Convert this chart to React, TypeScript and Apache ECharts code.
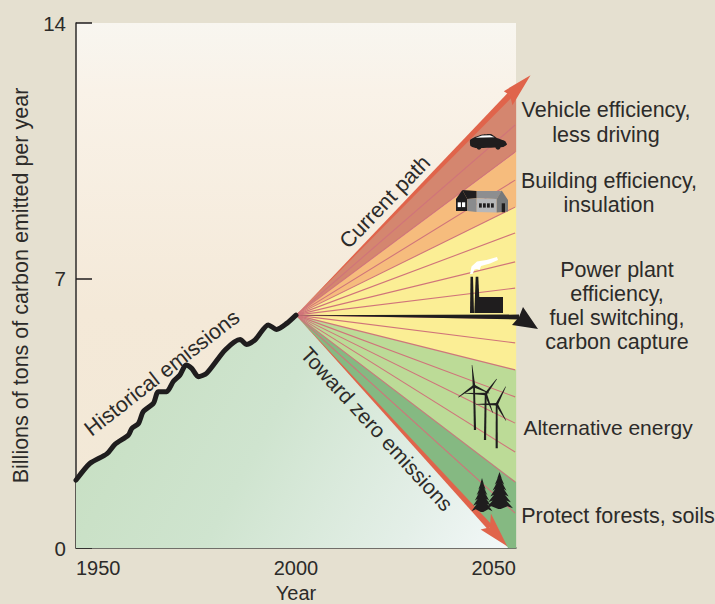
import React, { useEffect, useRef } from "react";
import * as echarts from "echarts";

const FONT = '"Liberation Sans", Arial, sans-serif';
const INK = "#2c2b29";
const PAGE = "#e5e0d0";

// Data
const xTickYears = [1950, 2000, 2050];
const yTickValues = [0, 7.18, 14]; // the "7" tick sits slightly above mid-height in the reference
const historical: [number, number][] = [
  [1950, 1.81], [1953.2, 2.26], [1957, 2.51], [1958.9, 2.77], [1961.9, 3.01], [1962.7, 3.19],
  [1964.2, 3.32], [1965.3, 3.64], [1967.6, 3.86], [1968.7, 4.17], [1970.6, 4.17], [1972.1, 4.44],
  [1973.6, 4.61], [1975, 4.88], [1976.3, 4.79], [1977.8, 4.57], [1979.7, 4.66], [1983.9, 5.28],
  [1987.3, 5.56], [1988.8, 5.43], [1990.7, 5.55], [1993.7, 5.95], [1995.6, 5.83], [1997.9, 5.99],
  [2000, 6.21],
];
const origin: [number, number] = [2000, 6.21];
const towardZero: [number, number][] = [[1999.7, 6.21], [2000, 6.21], [2048.3, 0]];
const bandUpper = [12.24, 10.56, 9.09, 4.75, 1.76];
const bandLower = [10.56, 9.09, 4.75, 1.76, 0];
const wedgeLineEnds = [
  11.28, 10.56, 9.81, 9.09, 8.4, 7.63, 6.93, 6.12, 5.47, 4.75, 4.03, 3.33, 2.56, 1.76, 0.93,
];
const arrowTipYears = [2053.3, 2048, 2055];
const arrowTipValues = [12.61, 0.05, 5.84];

const bandColors = ["#d4866f", "#f6bc7d", "#fbee95", "#bcdb97", "#85b982"];
const arrowColors = ["#e0644b", "#e0644b", "#1f1d1e"];
// head offsets in px from the tip: barb, notch, barb
const arrowHeads = [
  [[-26.7, 16], [-20.7, 20], [-18, 30]],
  [[-16.3, -32.7], [-17.3, -19], [-26.6, -16.7]],
  [[-15, -22], [-19, -12], [-26, -4]],
];
const arrowHalfWidth = [3, 3, 2.4];

const rightLabels: [string, number, number, number][] = [
  ["Vehicle efficiency,", 606, 110, 21.5], ["less driving", 606, 135, 21.5],
  ["Building efficiency,", 609, 181, 21.5], ["insulation", 609, 205, 21.5],
  ["Power plant", 617, 270, 21.5], ["efficiency,", 617, 294, 21.5], ["fuel switching,", 617, 318, 21.5], ["carbon capture", 617, 342, 21.5],
  ["Alternative energy", 608, 427, 21],
  ["Protect forests, soils", 618, 516, 21.5],
];
const slantLabels: [string, number, number, number, number][] = [
  ["Historical emissions", 162, 373, 38, 21.5],
  ["Current path", 385, 202, 46, 21.5],
  ["Toward zero emissions", 377, 429, -47.5, 21],
];

function poly(points: number[][], fill: string, extra: any = {}) {
  return { type: "polygon", z: 20, silent: true, shape: { points, ...extra }, style: { fill } };
}
function rect(x: number, y: number, width: number, height: number, fill: string) {
  return { type: "rect", z: 20, silent: true, shape: { x, y, width, height }, style: { fill } };
}
function taper(a: number[], b: number[], w0: number, w1: number, fill = "#1f1d1e") {
  const dx = b[0] - a[0], dy = b[1] - a[1];
  const l = Math.hypot(dx, dy);
  const nx = -dy / l, ny = dx / l;
  return poly(
    [
      [a[0] + nx * w0, a[1] + ny * w0], [b[0] + nx * w1, b[1] + ny * w1],
      [b[0] - nx * w1, b[1] - ny * w1], [a[0] - nx * w0, a[1] - ny * w0],
    ],
    fill
  );
}
function tree(cx: number, top: number, bottom: number, half: number) {
  const tiers = 6;
  const left: number[][] = [];
  const right: number[][] = [];
  const h = bottom - top;
  for (let i = 1; i <= tiers; i++) {
    const f = i / tiers;
    const y = top + h * f;
    const w = half * Math.pow(f, 0.95);
    right.push([cx + w, y + 1.2], [cx + w * 0.6, y - h * 0.02]);
    left.push([cx - w, y + 1.2], [cx - w * 0.6, y - h * 0.02]);
  }
  const pts = [[cx, top]];
  right.forEach((p) => pts.push(p));
  pts.push([cx + 1.2, bottom + 2], [cx - 1.2, bottom + 2]);
  left.reverse().forEach((p) => pts.push(p));
  return poly(pts, "#1f1d1e");
}
function turbine(hub: number[], base: number[], blades: number[][]) {
  return [
    taper(hub, base, 0.9, 1.1),
    ...blades.map((b) => taper(hub, b, 1.3, 0.25)),
  ];
}

function icons() {
  const black = "#1f1d1e";
  return [
    // car
    poly(
      [[470, 140], [474, 137.5], [482, 134.5], [491, 134], [497, 138], [505, 141], [507, 144.5], [503, 147], [476, 148], [470.5, 146]],
      black, { smooth: 0.15 }
    ),
    { type: "circle", z: 20, silent: true, shape: { cx: 479, cy: 147, r: 2.6 }, style: { fill: black } },
    { type: "circle", z: 20, silent: true, shape: { cx: 498, cy: 147, r: 2.6 }, style: { fill: black } },
    poly([[475.5, 137.7], [482, 135.6], [490, 135.2], [494.5, 137.2]], "#ffffff"),
    // house
    poly([[456, 199], [462.3, 190], [467.3, 199], [467.3, 211], [456, 211]], black),
    poly([[462.3, 190], [476.7, 191], [476.7, 198.3], [467.3, 199]], black),
    poly([[467.3, 199], [476.7, 198.3], [476.7, 212], [467.3, 211]], "#8a8b8d"),
    poly([[476.7, 191], [501.7, 191], [496.7, 199], [476.7, 198.3]], "#8d8e90"),
    poly([[476.7, 198.3], [496.7, 199], [496.7, 212.5], [476.7, 212]], "#b6b7b9"),
    poly([[501.7, 190.5], [508, 200], [508, 211.5], [496.7, 212.5], [496.7, 199]], "#77797b"),
    rect(479, 203.3, 2.8, 4.3, black), rect(483, 203.3, 2.8, 4.3, black),
    rect(487, 203.3, 2.8, 4.3, black), rect(491, 203.3, 2.8, 4.3, black),
    rect(501.7, 203.3, 3.3, 9, black),
    rect(457.7, 202.3, 3.2, 4.8, "#ffffff"), rect(462, 202.3, 3.2, 4.8, "#ffffff"),
    // power plant
    poly([[470, 313], [470.5, 276.7], [473, 276.7], [474, 313]], black),
    poly([[474.3, 313], [475.7, 276.7], [478.3, 276.7], [480, 313]], black),
    rect(475, 297, 28, 16, black),
    poly([[470, 274], [471.5, 266.5], [477, 261.5], [486.5, 260], [497, 257], [498, 260], [490, 263.5], [481, 266], [479.5, 270], [477, 269], [474.5, 269.5], [472.5, 274]], "#ffffff"),
    // wind turbines
    ...turbine([474, 386], [475, 430], [[472, 365], [458.3, 397.3], [489.3, 393.3]]),
    ...turbine([485.7, 394], [485, 440], [[496.7, 379], [465, 393.3], [492.7, 412.7]]),
    ...turbine([496.7, 404.3], [496.7, 448.3], [[505.7, 386.7], [476, 404.3], [506, 420.7]]),
    // trees
    tree(482, 478, 510, 10.5),
    tree(499.5, 472, 507, 13.5),
  ];
}

export default function App() {
  const ref = useRef<HTMLDivElement>(null);

  useEffect(() => {
    document.body.style.margin = "0";
    document.body.style.background = PAGE;
    const chart = echarts.init(ref.current!, null, { renderer: "svg" });
    const G = echarts.graphic.LinearGradient;
    const greenFill = new G(76, 314, 512, 548, [
      { offset: 0, color: "#c5debf" },
      { offset: 0.45, color: "#cfe4cf" },
      { offset: 0.8, color: "#e4efe8" },
      { offset: 1, color: "#f3f8f9" },
    ], true);

    const originPx = (api: any) => api.coord(origin);

    chart.setOption({
      animation: false,
      backgroundColor: PAGE,
      textStyle: { fontFamily: FONT, color: INK },
      grid: {
        left: 76, right: 199, top: 23, bottom: 56, show: true, borderWidth: 0,
        containLabel: false, outerBoundsMode: "none",
        backgroundColor: new G(0, 0, 0, 1, [
          { offset: 0, color: "#f8f6f0" },
          { offset: 0.13, color: "#f9f2e8" },
          { offset: 0.55, color: "#f4e9d8" },
          { offset: 1, color: "#f2e8d6" },
        ]),
      },
      xAxis: {
        type: "value", min: 1950, max: 2050, interval: 50,
        name: "Year", nameLocation: "middle", nameGap: 34,
        nameTextStyle: { fontSize: 20, color: INK, fontFamily: FONT },
        axisLine: { show: true, lineStyle: { color: "#4a4947", width: 1.5 } },
        axisTick: { show: false },
        splitLine: { show: false },
        axisLabel: {
          fontSize: 20, color: INK, fontFamily: FONT, margin: 10,
          alignMinLabel: "left", alignMaxLabel: "right",
          formatter: (v: number) => (xTickYears.includes(v) ? String(v) : ""),
        },
      },
      yAxis: {
        type: "value", min: 0, max: 14,
        name: "Billions of tons of carbon emitted per year", nameLocation: "middle", nameGap: 43,
        nameRotate: 90,
        nameTextStyle: { fontSize: 21.5, color: INK, fontFamily: FONT },
        axisLine: { show: true, lineStyle: { color: "#2e2d2b", width: 1.5 } },
        axisTick: { show: true, inside: true, length: 16, customValues: yTickValues, lineStyle: { color: "#1f1d1e", width: 1.5 } },
        splitLine: { show: false },
        axisLabel: {
          fontSize: 20.5, color: INK, fontFamily: FONT, margin: 10,
          customValues: yTickValues,
          formatter: (v: number) => String(Math.round(v)),
        },
      },
      series: [
        {
          name: "Toward zero", type: "line", z: 2, data: towardZero, symbol: "none", silent: true,
          lineStyle: { width: 0 }, areaStyle: { color: greenFill, opacity: 1 },
        },
        {
          type: "custom", z: 3, silent: true,
          data: bandUpper.map((u, i) => [u, bandLower[i], i]),
          renderItem: (_: any, api: any) => {
            const o = originPx(api);
            const i = api.value(2);
            const pts = [o, api.coord([2050, api.value(0)]), api.coord([2050, api.value(1)])];
            if (i === bandUpper.length - 1) pts.push(api.coord([towardZero[2][0], 0]));
            return { type: "polygon", shape: { points: pts }, style: { fill: bandColors[i], stroke: bandColors[i], lineWidth: 0.3 } };
          },
        },
        {
          type: "custom", z: 4, silent: true,
          data: wedgeLineEnds.map((v) => [v]),
          renderItem: (_: any, api: any) => {
            const o = originPx(api);
            const e = api.coord([2049.8, api.value(0)]);
            return { type: "line", shape: { x1: o[0], y1: o[1], x2: e[0], y2: e[1] }, style: { stroke: "#d0747a", lineWidth: 1.1 } };
          },
        },
        {
          name: "Historical emissions", type: "line", z: 5, data: historical, symbol: "none", silent: true,
          smooth: 0.25,
          lineStyle: { color: "#1f1d1e", width: 5, cap: "round", join: "round" },
          areaStyle: { color: greenFill, opacity: 1 },
        },
        {
          type: "custom", z: 6, silent: true,
          data: arrowTipYears.map((y, i) => [y, arrowTipValues[i], i]),
          renderItem: (_: any, api: any) => {
            const o = originPx(api);
            const i = api.value(2);
            const t = api.coord([api.value(0), api.value(1)]);
            const head = arrowHeads[i].map((d) => [t[0] + d[0], t[1] + d[1]]);
            const n = head[1];
            const dx = n[0] - o[0], dy = n[1] - o[1];
            const l = Math.hypot(dx, dy);
            const w = arrowHalfWidth[i];
            const nx = (-dy / l) * w, ny = (dx / l) * w;
            return {
              type: "group",
              children: [
                { type: "polygon", shape: { points: [[o[0], o[1]], [n[0] + nx, n[1] + ny], [n[0] - nx, n[1] - ny]] }, style: { fill: arrowColors[i] } },
                { type: "polygon", shape: { points: [t, head[0], head[1], head[2]] }, style: { fill: arrowColors[i] } },
              ],
            };
          },
        },
      ],
      graphic: [
        ...icons(),
        ...rightLabels.map(([text, x, y, size]) => ({
          type: "text", z: 30, x, y, silent: true,
          style: { text, fill: INK, font: `${size}px ${FONT}`, align: "center", verticalAlign: "middle" },
        })),
        ...slantLabels.map(([text, x, y, deg, size]) => ({
          type: "text", z: 30, x, y, rotation: (deg * Math.PI) / 180, silent: true,
          style: { text, fill: INK, font: `${size}px ${FONT}`, align: "center", verticalAlign: "middle" },
        })),
      ],
    });
    return () => chart.dispose();
  }, []);

  return <div ref={ref} style={{ width: 715, height: 604 }} />;
}
